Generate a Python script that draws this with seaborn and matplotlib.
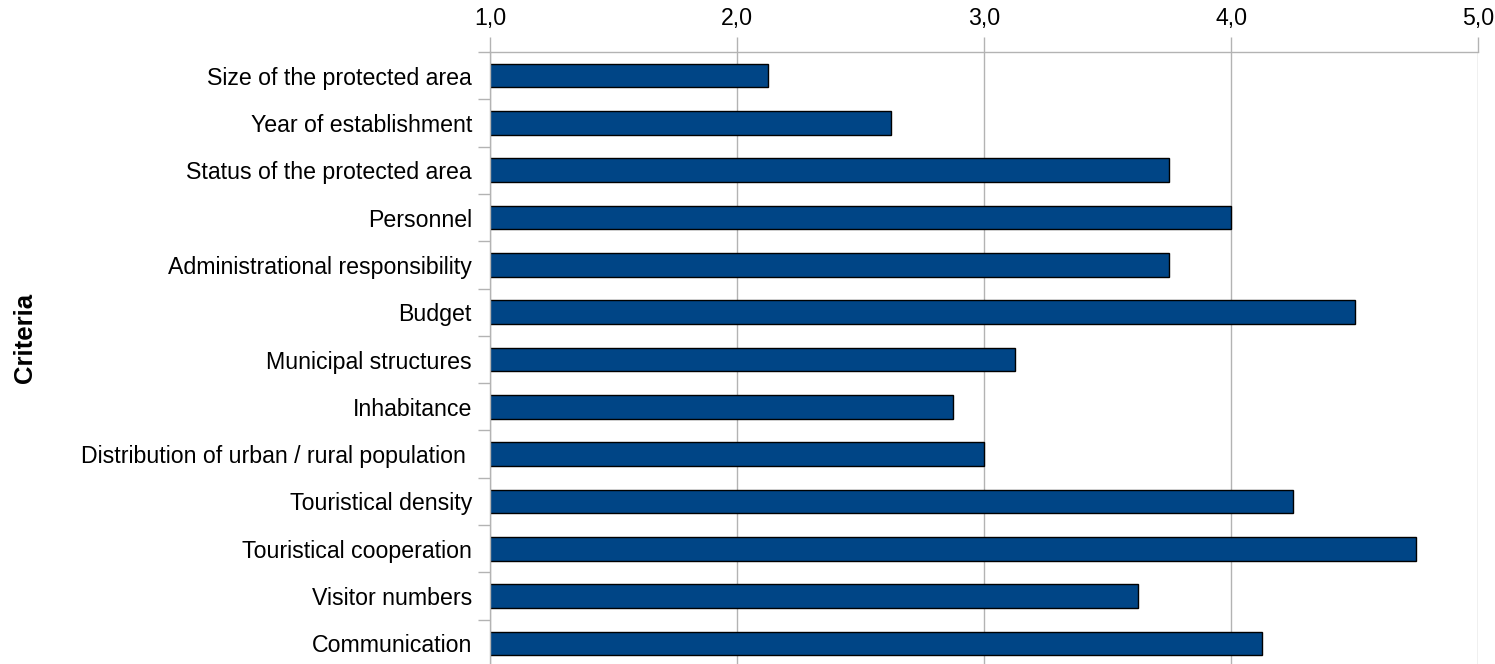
import matplotlib
matplotlib.use("Agg")
import matplotlib.pyplot as plt
import seaborn as sns
import pandas as pd
import numpy as np

categories = [
    "Size of the protected area",
    "Year of establishment",
    "Status of the protected area",
    "Personnel",
    "Administrational responsibility",
    "Budget",
    "Municipal structures",
    "Inhabitance",
    "Distribution of urban / rural population ",
    "Touristical density",
    "Touristical cooperation",
    "Visitor numbers",
    "Communication",
]
values = [2.125, 2.625, 3.75, 4.0, 3.75, 4.5, 3.125, 2.875, 3.0, 4.25, 4.75, 3.625, 4.125]
tick_values = [1.0, 2.0, 3.0, 4.0, 5.0]
tick_labels = ["1,0", "2,0", "3,0", "4,0", "5,0"]

sns.set_theme(style="white")
plt.rcParams["font.family"] = ["Liberation Sans", "DejaVu Sans"]
plt.rcParams["text.color"] = "black"

df = pd.DataFrame({"Criteria": categories, "Value": values})

fig = plt.figure(figsize=(14.95, 6.64), dpi=100)
W, H = 1495, 664
left, right, top, bottom = 490, 1478, 52, 667
ax = fig.add_axes([left / W, 1 - bottom / H, (right - left) / W, (bottom - top) / H])

sns.barplot(data=df, y="Criteria", x="Value", orient="h", color="#004586",
            width=0.5, edgecolor="black", linewidth=1.0, saturation=1, ax=ax)

ax.set_xlim(1.0, 5.0)
ax.set_ylim(len(categories) - 0.5, -0.5)
ax.xaxis.tick_top()
ax.set_xticks(tick_values)
ax.set_xticklabels(tick_labels, fontsize=16.7, color="black")
ax.tick_params(axis="x", which="major", length=11, color="#b3b3b3", width=1, pad=5, top=True, bottom=False)
ax.xaxis.grid(True, color="#b3b3b3", linewidth=1)
ax.set_axisbelow(True)
ax.set_xlabel("")

ax.set_yticks(range(len(categories)))
ax.set_yticklabels(categories, fontsize=16.7, color="black")
ax.tick_params(axis="y", which="major", length=0, pad=13)
ax.set_yticks(np.arange(-0.5, len(categories), 1.0), minor=True)
ax.tick_params(axis="y", which="minor", length=9, color="#b3b3b3", width=1, left=True)
ax.set_ylabel("")
fig.text(25 / W, 1 - 338 / H, "Criteria", rotation=90, fontsize=18.5, fontweight="bold",
         ha="center", va="center", color="black")

for s in ["left", "top"]:
    ax.spines[s].set_color("#b3b3b3")
    ax.spines[s].set_linewidth(1)
for s in ["right", "bottom"]:
    ax.spines[s].set_visible(False)

fig.savefig("out.png", dpi=100)
